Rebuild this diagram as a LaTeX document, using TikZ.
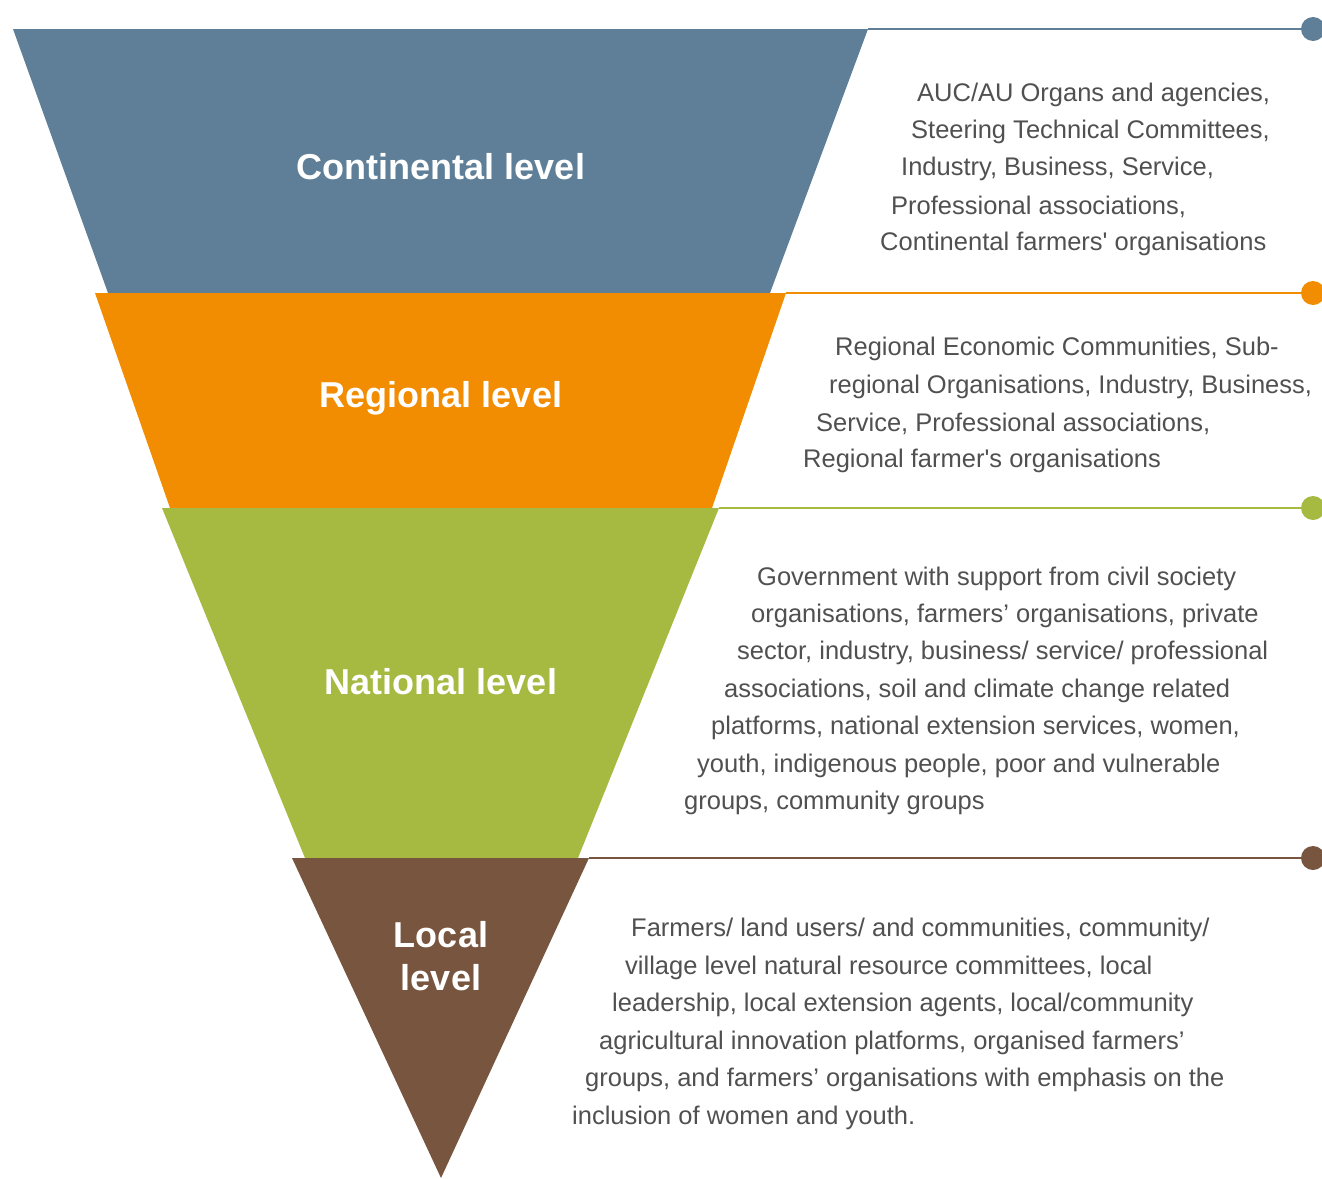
\documentclass[tikz,border=0pt]{standalone}
\usepackage{fontspec}
\setmainfont{Liberation Sans}[Ligatures=TeXOff]
\usetikzlibrary{positioning}
\definecolor{contblue}{RGB}{94,127,151}
\definecolor{regorange}{RGB}{242,140,0}
\definecolor{natgreen}{RGB}{166,185,64}
\definecolor{locbrown}{RGB}{120,85,63}
\definecolor{textgrey}{RGB}{80,80,80}
\tikzset{
  level/.style={white, align=center, font=\fontsize{36}{43}\selectfont\bfseries}, % title inside a band
  body/.style={anchor=west, inner sep=0pt, yshift=-2pt, textgrey, font=\fontsize{25.5}{25.5}\selectfont}, % one line of the side text
  dot/.style={circle, minimum size=24pt, inner sep=0pt}, % end point of a link
  link/.style={line width=2pt}, % line from band to dot
}

\begin{document}
\begin{tikzpicture}[x=1pt, y=-1pt]
      \useasboundingbox (0,0) rectangle (1322,1178);

      % bands of the funnel
      \fill[contblue] (13,29) -- (868,29) -- (770,293) -- (108,293) -- cycle;
      \fill[regorange] (95,293) -- (786,293) -- (712,508) -- (170,508) -- cycle;
      \fill[natgreen] (162,508) -- (719,508) -- (578,858) -- (305,858) -- cycle;
      \fill[locbrown] (292,858) -- (589,858) -- (441,1178) -- cycle;

      \coordinate (c1) at (868,29);
      \coordinate (c2) at (786,293);
      \coordinate (c3) at (719,508);
      \coordinate (c4) at (589,858);

      \node[level] (cont) at (441,167) {Continental level};
      \node[level] (reg) at (441,398) {Regional level};
      \node[level] (nat) at (441,682) {National level};
      \node[level] (loc) at (441,956) {Local\\level};

      % dots on the right
      \node[dot, fill=contblue] (d1) at (1313,29) {};
      \node[dot, fill=regorange] (d2) at (1313,293) {};
      \node[dot, fill=natgreen] (d3) at (1313,508) {};
      \node[dot, fill=locbrown] (d4) at (1313,858) {};

      \draw[link, contblue] (c1) -- (d1);
      \draw[link, regorange] (c2) -- (d2);
      \draw[link, natgreen] (c3) -- (d3);
      \draw[link, locbrown] (c4) -- (d4);

      % continental
      \node[body] (t11) at (917,93) {AUC/AU Organs and agencies,};
      \node[body] (t12) at (911,130) {Steering Technical Committees,};
      \node[body] (t13) at (901,167) {Industry, Business, Service,};
      \node[body] (t14) at (891,205) {Professional associations,};
      \node[body] (t15) at (880,242) {Continental farmers' organisations};

      % regional
      \node[body] (t21) at (835,347) {Regional Economic Communities, Sub-};
      \node[body] (t22) at (829,385) {regional Organisations, Industry, Business,};
      \node[body] (t23) at (816,422) {Service, Professional associations,};
      \node[body] (t24) at (803,459) {Regional farmer's organisations};

      % national
      \node[body] (t31) at (757,577) {Government with support from civil society};
      \node[body] (t32) at (751,614) {organisations, farmers’ organisations, private};
      \node[body] (t33) at (737,651) {sector, industry, business/ service/ professional};
      \node[body] (t34) at (724,689) {associations, soil and climate change related};
      \node[body] (t35) at (711,726) {platforms, national extension services, women,};
      \node[body] (t36) at (697,764) {youth, indigenous people, poor and vulnerable};
      \node[body] (t37) at (684,801) {groups, community groups};

      % local
      \node[body] (t41) at (631,928) {Farmers/ land users/ and communities, community/};
      \node[body] (t42) at (625,966) {village level natural resource committees, local};
      \node[body] (t43) at (612,1003) {leadership, local extension agents, local/community};
      \node[body] (t44) at (599,1041) {agricultural innovation platforms, organised farmers’};
      \node[body] (t45) at (585,1078) {groups, and farmers’ organisations with emphasis on the};
      \node[body] (t46) at (572,1116) {inclusion of women and youth.};
    \end{tikzpicture}
\end{document}
